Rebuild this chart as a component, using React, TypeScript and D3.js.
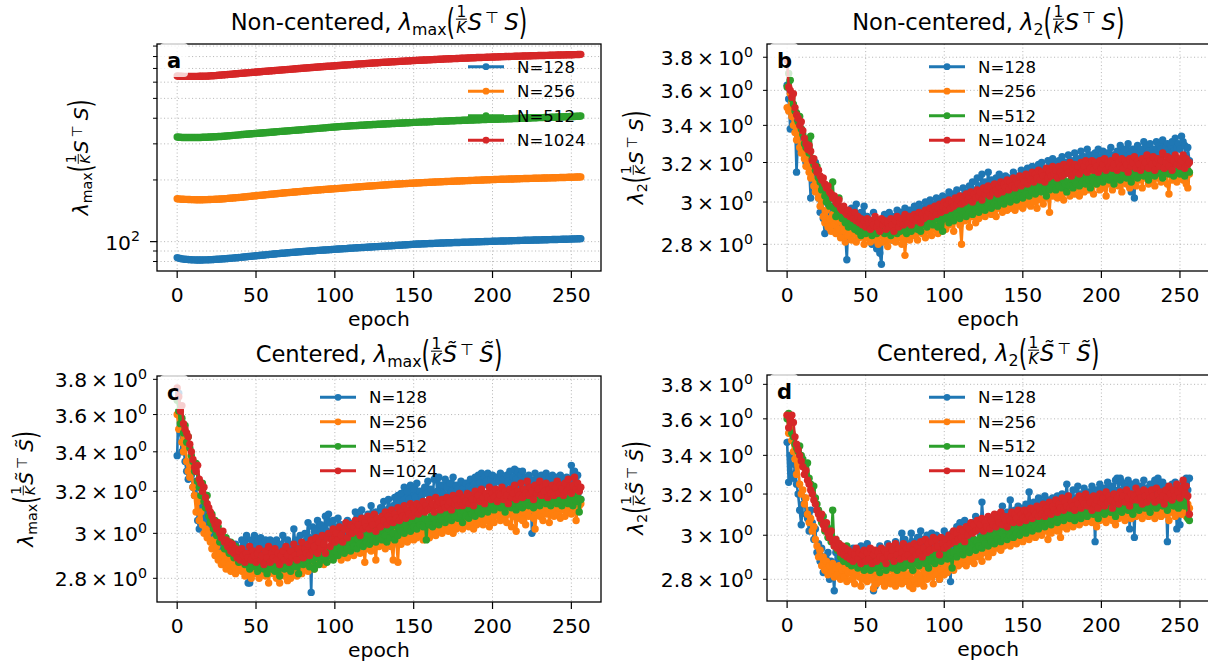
import React from 'react';
import * as d3 from 'd3';

// ---------------- DATA ----------------
const seriesNames = ['N=128', 'N=256', 'N=512', 'N=1024'];
const seriesColors = ['#1f77b4', '#ff7f0e', '#2ca02c', '#d62728'];
const xTickValues = [0, 50, 100, 150, 200, 250];
const xDomain = [-12.8, 268.8];
const aTickValues = [80, 90, 100, 200, 300, 400, 500, 600, 700, 800, 900];
const aMajorTicks = [100];
const aTickLabels: Record<number, [string, string]> = { 100: ['10', '2'] };
const bcdTickValues = [2.8, 3.0, 3.2, 3.4, 3.6, 3.8];
const bcdTickLabels = ['2.8', '3', '3.2', '3.4', '3.6', '3.8'];

// Panel a: non-centered lambda_max
const aBlue = [83.6,83.1,82.7,82.4,82.2,82.0,81.9,81.8,81.7,81.6,81.5,
81.5,81.4,81.4,81.4,81.4,81.4,81.5,81.5,81.5,81.6,
81.7,81.7,81.8,81.9,82.0,82.1,82.2,82.3,82.4,82.5,
82.6,82.8,82.9,83.0,83.1,83.3,83.4,83.5,83.7,83.8,
84.0,84.1,84.3,84.4,84.6,84.7,84.9,85.0,85.2,85.3,
85.5,85.6,85.8,85.9,86.1,86.2,86.4,86.5,86.7,86.8,
87.0,87.1,87.3,87.4,87.5,87.7,87.8,87.9,88.1,88.2,
88.3,88.5,88.6,88.7,88.8,89.0,89.1,89.2,89.4,89.5,
89.6,89.7,89.8,90.0,90.1,90.2,90.3,90.4,90.6,90.7,
90.8,90.9,91.0,91.1,91.2,91.3,91.4,91.5,91.7,91.8,
91.9,92.0,92.1,92.2,92.3,92.4,92.5,92.6,92.8,92.9,
93.0,93.1,93.2,93.3,93.4,93.5,93.6,93.7,93.8,93.9,
94.0,94.1,94.2,94.3,94.4,94.5,94.6,94.7,94.8,94.9,
95.0,95.1,95.2,95.3,95.4,95.5,95.6,95.8,95.9,96.0,
96.1,96.2,96.3,96.4,96.5,96.6,96.7,96.9,97.0,97.1,
97.2,97.3,97.3,97.4,97.5,97.6,97.6,97.7,97.8,97.9,
98.0,98.0,98.1,98.2,98.2,98.3,98.4,98.4,98.5,98.6,
98.7,98.7,98.8,98.8,98.9,99.0,99.0,99.1,99.1,99.2,
99.3,99.3,99.4,99.4,99.5,99.6,99.6,99.7,99.7,99.8,
99.9,99.9,100.0,100.0,100.1,100.2,100.2,100.3,100.3,100.4,
100.5,100.5,100.6,100.6,100.7,100.7,100.8,100.8,100.9,100.9,
101.0,101.0,101.1,101.2,101.2,101.3,101.3,101.4,101.4,101.5,
101.5,101.6,101.6,101.7,101.7,101.8,101.8,101.9,101.9,102.0,
102.0,102.1,102.1,102.2,102.2,102.3,102.3,102.4,102.4,102.5,
102.5,102.6,102.6,102.7,102.7,102.8,102.8,102.9,102.9,103.0,
103.1,103.1,103.2,103.3,103.3,103.4];
const aOrange = [162.0,161.6,161.3,161.1,160.9,160.8,160.7,160.6,160.5,160.4,160.3,
160.3,160.2,160.2,160.2,160.2,160.2,160.3,160.3,160.4,160.5,
160.6,160.7,160.8,160.9,161.1,161.2,161.4,161.5,161.7,162.0,
162.2,162.5,162.7,163.0,163.2,163.5,163.7,164.0,164.2,164.5,
164.8,165.1,165.4,165.7,166.0,166.3,166.6,166.9,167.2,167.5,
167.8,168.1,168.4,168.7,169.0,169.3,169.6,169.9,170.2,170.5,
170.8,171.1,171.4,171.7,172.0,172.3,172.6,172.9,173.2,173.5,
173.8,174.0,174.3,174.6,174.8,175.1,175.4,175.7,175.9,176.2,
176.5,176.7,177.0,177.3,177.5,177.8,178.0,178.3,178.5,178.8,
179.0,179.3,179.5,179.8,180.0,180.2,180.5,180.7,181.0,181.2,
181.5,181.7,182.0,182.3,182.5,182.8,183.0,183.3,183.5,183.8,
184.0,184.3,184.5,184.8,185.0,185.3,185.5,185.8,186.0,186.3,
186.5,186.8,187.0,187.2,187.5,187.7,188.0,188.2,188.5,188.7,
188.9,189.2,189.4,189.6,189.9,190.1,190.3,190.5,190.8,191.0,
191.2,191.4,191.6,191.8,192.0,192.2,192.4,192.6,192.8,193.0,
193.2,193.4,193.5,193.7,193.9,194.1,194.3,194.4,194.6,194.8,
195.0,195.1,195.3,195.5,195.6,195.8,195.9,196.1,196.3,196.4,
196.6,196.7,196.9,197.0,197.2,197.3,197.5,197.6,197.8,197.9,
198.1,198.2,198.4,198.5,198.7,198.8,199.0,199.1,199.3,199.4,
199.5,199.7,199.8,200.0,200.1,200.3,200.4,200.5,200.7,200.8,
200.9,201.0,201.2,201.3,201.4,201.5,201.6,201.8,201.9,202.0,
202.1,202.2,202.3,202.4,202.6,202.7,202.8,202.9,203.0,203.1,
203.2,203.3,203.4,203.5,203.6,203.7,203.8,203.9,204.0,204.1,
204.2,204.3,204.4,204.5,204.6,204.7,204.8,204.9,205.0,205.1,
205.2,205.3,205.4,205.5,205.6,205.7,205.8,206.0,206.1,206.2,
206.3,206.4,206.6,206.7,206.8,207.0];
const aGreen = [324,323,323,322,322,322,322,322,322,322,322,
322,322,322,322,322,323,323,323,323,324,
324,324,325,325,325,326,326,326,327,327,
328,328,329,329,330,330,331,331,332,332,
333,333,334,334,335,335,336,336,337,337,
338,338,339,339,340,340,341,341,342,342,
343,343,344,344,345,345,346,346,347,347,
348,348,349,349,350,350,351,351,352,352,
353,353,354,354,355,355,356,356,357,357,
358,358,359,359,360,361,361,362,362,363,
363,364,364,365,365,365,366,366,367,367,
368,368,368,369,369,370,370,370,371,371,
372,372,372,373,373,373,374,374,374,375,
375,375,376,376,376,377,377,377,378,378,
378,379,379,379,380,380,380,381,381,382,
382,382,383,383,383,384,384,384,384,385,
385,385,386,386,386,387,387,387,387,388,
388,388,389,389,389,389,390,390,390,390,
391,391,391,391,392,392,392,392,393,393,
393,393,394,394,394,394,395,395,395,395,
396,396,396,396,397,397,397,397,398,398,
398,398,399,399,399,399,400,400,400,400,
401,401,401,401,402,402,402,402,403,403,
403,403,404,404,404,404,405,405,405,405,
406,406,406,406,407,407,407,407,408,408,
408,408,409,409,409,410];
const aRed = [643,642,641,641,640,640,640,640,640,640,640,
640,640,640,641,641,641,642,642,642,643,
644,645,645,646,647,648,649,650,651,652,
653,654,655,656,657,658,659,660,661,662,
663,664,665,666,667,668,669,670,671,672,
673,674,675,676,677,678,679,680,681,682,
683,684,685,686,687,688,689,690,691,692,
693,694,695,696,697,698,699,700,701,702,
703,704,705,706,707,708,709,710,711,712,
713,714,715,716,717,718,718,719,720,721,
722,723,724,725,726,727,728,729,730,731,
732,733,734,735,736,737,737,738,739,740,
741,742,743,744,745,745,746,747,748,749,
750,751,751,752,753,754,755,755,756,757,
758,759,759,760,761,762,762,763,764,765,
765,766,767,768,768,769,770,770,771,772,
772,773,774,774,775,776,776,777,778,779,
779,780,780,781,782,782,783,783,784,785,
785,786,786,787,787,788,789,789,790,791,
791,792,792,793,793,794,794,795,795,796,
796,797,797,798,798,799,799,800,800,801,
801,802,802,803,803,803,804,804,805,805,
806,806,806,807,807,808,808,808,809,809,
810,810,810,811,811,812,812,812,813,813,
814,814,814,815,815,815,816,816,817,817,
817,818,818,819,819,820];

// Panel b: non-centered lambda_2
const bBlue = [3.63,3.55,3.38,3.50,3.40,3.45,3.15,3.35,3.30,3.38,3.28,
3.25,3.20,3.30,3.18,3.02,3.15,3.12,3.20,3.05,3.02,
2.95,3.08,2.92,2.85,3.00,2.95,2.90,2.98,2.92,2.88,
2.95,2.90,2.98,2.87,2.93,2.96,2.85,2.73,2.92,2.89,
2.97,2.88,2.94,2.99,2.86,2.92,2.95,2.90,2.98,2.88,
2.93,2.86,2.91,2.80,2.95,2.87,2.78,2.90,2.76,2.71,
2.88,2.94,2.92,2.85,2.95,2.89,2.82,2.93,2.90,2.96,
2.87,2.95,2.91,2.84,2.97,2.92,2.88,2.96,2.93,2.89,
2.98,2.92,2.95,2.99,2.90,2.97,2.94,3.00,2.93,2.98,
3.01,2.95,2.99,2.93,3.02,2.97,3.00,2.96,3.03,2.99,
3.02,2.97,3.05,3.00,2.98,3.04,3.01,3.06,2.99,3.03,
3.00,3.07,3.02,2.97,3.05,3.08,3.03,3.10,3.01,3.06,
3.12,3.04,3.08,3.14,3.02,3.10,3.07,3.15,3.05,3.11,
3.08,3.03,3.12,3.09,3.14,3.06,3.11,3.07,3.13,3.10,
3.05,3.12,3.08,3.15,3.10,3.06,3.13,3.09,3.16,3.11,
3.14,3.08,3.17,3.12,3.10,3.18,3.13,3.16,3.11,3.19,
3.14,3.20,3.12,3.17,3.15,3.21,3.13,3.18,3.22,3.16,
3.19,3.14,3.21,3.17,3.23,3.15,3.20,3.18,3.24,3.16,
3.21,3.19,3.25,3.17,3.22,3.20,3.26,3.18,3.23,3.21,
3.27,3.19,3.24,3.16,3.22,3.25,3.20,3.27,3.18,3.23,
3.26,3.21,3.19,3.25,3.22,3.28,3.20,3.24,3.17,3.26,
3.23,3.29,3.21,3.25,3.27,3.22,3.30,3.24,3.05,3.27,
3.02,3.25,3.29,3.22,3.27,3.24,3.31,3.23,3.28,3.26,
3.30,3.22,3.27,3.25,3.31,3.24,3.29,3.27,3.32,3.25,
3.28,3.30,3.23,3.29,3.31,3.26,3.33,3.28,3.30,3.27,
3.34,3.31,3.29,3.10,3.28,3.21];
const bOrange = [3.50,3.48,3.58,3.45,3.40,3.36,3.32,3.38,3.28,3.25,3.30,
3.22,3.18,3.24,3.15,3.12,3.18,3.08,3.05,3.10,3.02,
2.98,3.04,2.93,2.90,2.96,2.88,2.92,2.86,2.94,2.89,
2.85,2.91,2.87,2.83,2.90,2.86,2.81,2.88,2.84,2.87,
2.82,2.89,2.85,2.81,2.87,2.83,2.88,2.84,2.80,2.86,
2.83,2.87,2.81,2.85,2.88,2.82,2.86,2.80,2.84,2.87,
2.81,2.85,2.83,2.79,2.86,2.82,2.88,2.84,2.81,2.86,
2.83,2.87,2.80,2.85,2.75,2.84,2.88,2.82,2.86,2.89,
2.84,2.88,2.82,2.87,2.90,2.85,2.88,2.83,2.91,2.86,
2.89,2.84,2.92,2.87,2.90,2.85,2.93,2.88,2.91,2.94,
2.87,2.92,2.89,2.95,2.90,2.86,2.93,2.91,2.96,2.89,
2.80,2.94,2.91,2.97,2.92,2.88,2.95,2.93,2.98,2.90,
2.96,2.92,2.99,2.94,2.97,2.93,3.00,2.95,2.98,2.94,
3.00,2.96,2.93,3.01,2.97,2.99,2.95,3.02,2.98,2.96,
3.01,2.97,3.03,2.99,2.96,3.02,2.98,3.04,3.00,2.97,
3.03,2.99,3.05,3.01,2.98,3.04,3.00,3.06,2.97,3.03,
3.05,3.01,2.99,3.06,3.02,3.04,2.95,3.07,3.03,3.05,
3.08,3.02,3.06,3.04,3.09,3.01,3.07,3.05,3.10,3.03,
3.06,3.09,3.04,3.11,3.07,3.03,3.08,3.12,3.05,3.09,
3.10,3.06,3.13,3.08,3.04,3.11,3.09,3.14,3.06,3.10,
3.12,3.07,3.03,3.11,3.09,3.14,3.06,3.12,3.10,3.15,
3.08,3.13,3.05,3.11,3.16,3.09,3.14,3.07,3.12,3.10,
3.15,3.08,3.13,3.11,3.16,3.07,3.14,3.12,3.17,3.09,
3.13,3.11,3.16,3.08,3.14,3.12,3.17,3.10,3.15,3.13,
3.18,3.09,3.04,3.14,3.11,3.16,3.12,3.10,3.17,3.13,
3.15,3.11,3.18,3.09,3.07,3.14];
const bGreen = [3.62,3.70,3.66,3.55,3.52,3.48,3.47,3.42,3.45,3.38,3.35,
3.30,3.28,3.32,3.25,3.34,3.22,3.19,3.16,3.18,3.12,
3.10,3.06,3.08,3.03,3.00,3.05,2.98,3.02,3.10,2.97,
2.93,2.99,3.02,2.95,2.92,2.96,2.90,2.94,2.88,2.92,
2.89,2.93,2.87,2.91,2.86,2.90,2.84,2.89,2.87,2.85,
2.88,2.86,2.90,2.84,2.87,2.91,2.85,2.88,2.86,2.89,
2.87,2.85,2.90,2.86,2.88,2.84,2.89,2.87,2.91,2.85,
2.88,2.86,2.90,2.87,2.89,2.85,2.91,2.88,2.86,2.90,
2.88,2.92,2.87,2.90,2.86,2.91,2.89,2.93,2.88,2.91,
2.90,2.94,2.89,2.92,2.95,2.88,2.93,2.91,2.86,2.94,
2.92,2.96,2.90,2.94,2.97,2.91,2.95,2.93,2.97,2.92,
2.96,2.94,2.98,2.93,2.97,2.95,2.99,2.94,2.98,2.96,
3.00,2.95,2.99,2.97,3.01,2.96,3.00,2.98,3.02,2.97,
3.01,2.99,3.03,2.98,3.02,3.00,3.04,2.99,3.03,3.01,
3.05,3.00,3.04,3.02,3.06,3.01,3.05,3.03,3.07,3.02,
3.06,3.04,3.08,3.03,3.07,3.05,3.09,3.04,3.08,3.06,
3.10,3.05,3.09,3.07,3.03,3.08,3.06,3.10,3.07,3.11,
3.06,3.10,3.08,3.12,3.07,3.11,3.09,3.05,3.10,3.08,
3.12,3.07,3.11,3.09,3.13,3.08,3.12,3.10,3.14,3.09,
3.13,3.11,3.07,3.12,3.10,3.14,3.09,3.13,3.11,3.15,
3.10,3.14,3.12,3.16,3.11,3.15,3.13,3.09,3.14,3.12,
3.16,3.11,3.15,3.13,3.17,3.12,3.16,3.14,3.10,3.15,
3.13,3.17,3.12,3.16,3.14,3.18,3.13,3.17,3.15,3.11,
3.16,3.14,3.18,3.13,3.17,3.15,3.19,3.14,3.12,3.17,
3.15,3.19,3.14,3.18,3.16,3.13,3.18,3.15,3.19,3.14,
3.17,3.15,3.13,3.18,3.16,3.15];
const bRed = [3.78,3.62,3.60,3.56,3.58,3.50,3.46,3.44,3.40,3.42,3.37,
3.33,3.30,3.27,3.29,3.26,3.21,3.22,3.18,3.15,3.16,
3.13,3.11,3.12,3.09,3.07,3.08,3.05,3.04,3.02,3.03,
3.00,2.99,3.01,2.97,2.96,2.98,2.95,2.94,2.96,2.93,
2.94,2.92,2.95,2.91,2.93,2.90,2.92,2.89,2.91,2.88,
2.92,2.90,2.87,2.91,2.89,2.93,2.88,2.90,2.86,2.92,
2.89,2.91,2.87,2.90,2.88,2.92,2.89,2.86,2.91,2.93,
2.88,2.90,2.92,2.89,2.94,2.91,2.90,2.93,2.89,2.92,
2.94,2.91,2.93,2.95,2.90,2.94,2.92,2.96,2.93,2.95,
2.97,2.93,2.96,2.98,2.94,2.97,2.99,2.95,2.98,3.00,
2.96,2.99,3.01,2.97,3.00,2.98,3.02,2.99,3.01,3.03,
2.99,3.02,3.00,3.04,3.01,3.03,3.05,3.00,3.04,3.02,
3.06,3.03,3.05,3.01,3.07,3.04,3.06,3.08,3.03,3.07,
3.05,3.09,3.06,3.04,3.08,3.10,3.05,3.09,3.07,3.11,
3.06,3.10,3.08,3.12,3.07,3.11,3.09,3.13,3.08,3.12,
3.10,3.14,3.09,3.13,3.11,3.15,3.10,3.14,3.12,3.16,
3.11,3.15,3.13,3.10,3.17,3.12,3.15,3.13,3.18,3.14,
3.16,3.12,3.18,3.15,3.13,3.19,3.14,3.17,3.15,3.20,
3.13,3.17,3.19,3.15,3.18,3.14,3.20,3.16,3.18,3.21,
3.15,3.19,3.17,3.21,3.16,3.20,3.18,3.15,3.21,3.17,
3.19,3.22,3.16,3.20,3.18,3.21,3.17,3.19,3.23,3.16,
3.20,3.18,3.22,3.17,3.21,3.19,3.15,3.22,3.18,3.20,
3.23,3.17,3.21,3.19,3.16,3.22,3.18,3.20,3.24,3.17,
3.21,3.19,3.23,3.16,3.20,3.22,3.18,3.21,3.25,3.17,
3.20,3.23,3.18,3.22,3.16,3.21,3.24,3.19,3.22,3.18,
3.21,3.24,3.17,3.22,3.19,3.20];

// Panel c: centered lambda_max
const cBlue = [3.38,3.72,3.50,3.40,3.42,3.35,3.30,3.26,3.33,3.28,3.22,
3.18,3.25,3.06,3.02,3.12,3.15,3.08,3.05,3.10,3.00,
3.04,2.98,3.02,2.95,2.99,2.93,2.96,2.91,2.95,2.92,
2.94,2.90,2.96,2.93,2.89,2.92,2.95,2.91,2.88,2.93,
2.97,2.92,2.95,2.99,2.78,2.78,2.97,2.93,2.99,2.94,
2.97,2.92,2.98,2.95,2.91,2.97,2.94,2.90,2.97,2.93,
2.96,2.91,2.97,2.88,2.95,2.92,2.99,2.90,2.94,2.97,
2.92,2.95,2.89,3.02,2.94,2.97,2.91,2.99,2.95,2.93,
3.00,2.96,3.05,2.98,2.74,3.03,3.01,2.95,3.06,2.99,
3.04,2.97,3.02,3.08,3.01,3.09,3.05,2.98,3.06,3.03,
2.96,3.07,3.00,3.04,2.94,3.02,2.93,3.06,2.92,3.03,
2.98,3.05,3.10,3.01,3.08,3.03,3.11,2.99,3.07,3.04,
3.09,3.02,3.13,3.06,3.01,3.10,3.05,2.96,3.12,3.07,
3.15,3.04,3.11,3.16,3.08,2.94,3.13,3.17,3.10,3.18,
3.12,3.19,3.14,3.22,3.10,3.20,3.16,3.23,3.13,3.21,
3.17,3.24,3.12,3.20,3.18,3.15,3.22,3.19,3.25,3.16,
3.21,3.18,3.26,3.27,3.20,3.27,3.17,3.23,3.19,3.26,
3.22,3.18,3.24,3.20,3.27,3.16,3.23,3.21,3.18,3.25,
3.21,3.19,3.24,3.17,3.22,3.26,3.20,3.23,3.27,3.21,
3.28,3.24,3.29,3.23,3.27,3.25,3.29,3.22,3.26,3.28,
3.24,3.21,3.27,3.25,3.29,3.23,3.26,3.22,3.28,3.25,
3.30,3.24,3.27,3.31,3.26,3.30,3.23,3.28,3.30,3.25,
3.27,3.22,3.28,3.26,3.00,3.25,3.29,3.23,3.27,3.24,
3.28,3.21,3.26,3.29,3.24,3.27,3.22,3.28,3.25,3.23,
3.27,3.24,3.28,3.21,3.26,3.23,3.27,3.25,3.22,3.33,
3.26,3.30,3.24,3.28,3.20,3.16];
const cOrange = [3.60,3.52,3.62,3.45,3.40,3.48,3.35,3.30,3.27,3.32,3.22,
3.18,3.10,3.15,3.06,3.10,3.04,3.00,3.02,2.98,3.01,
2.96,2.93,2.97,2.90,2.94,2.88,2.91,2.86,2.90,2.87,
2.84,2.89,2.86,2.83,2.88,2.85,2.82,2.87,2.84,2.86,
2.83,2.87,2.81,2.85,2.82,2.86,2.80,2.84,2.82,2.86,
2.83,2.80,2.85,2.82,2.87,2.81,2.84,2.78,2.83,2.86,
2.82,2.85,2.80,2.84,2.78,2.83,2.86,2.81,2.84,2.79,
2.83,2.80,2.85,2.82,2.86,2.81,2.84,2.88,2.82,2.86,
2.84,2.88,2.83,2.87,2.85,2.89,2.84,2.88,2.86,2.90,
2.87,2.91,2.86,2.89,2.92,2.88,2.90,2.94,2.89,2.92,
2.95,2.90,2.93,2.88,2.96,2.91,2.94,2.89,2.97,2.92,
2.95,2.90,2.97,2.93,2.96,2.91,2.98,2.94,2.87,2.96,
2.93,2.97,2.92,2.99,2.95,2.88,2.98,2.94,3.00,2.95,
2.98,2.93,3.00,2.96,2.99,2.94,2.88,3.01,2.96,2.87,
3.00,2.95,3.02,2.97,3.01,2.96,3.03,2.98,3.01,2.97,
3.03,2.98,3.02,2.99,3.04,2.97,3.02,3.00,3.05,2.98,
3.03,3.00,3.06,2.99,3.04,3.01,3.05,3.00,3.07,3.02,
3.04,3.01,3.06,3.03,3.00,3.07,3.02,3.05,3.03,3.08,
3.02,3.06,3.04,3.09,3.03,3.07,3.05,3.02,3.08,3.04,
3.07,3.05,3.10,3.04,3.08,3.06,3.11,3.03,3.09,3.07,
3.05,3.10,3.08,3.12,3.06,3.09,3.07,3.11,3.05,3.09,
3.12,3.03,3.10,3.08,3.01,3.11,3.07,3.13,3.06,3.10,
3.04,3.12,3.08,3.11,3.14,3.07,3.02,3.10,3.13,3.08,
3.11,3.06,3.14,3.09,3.12,3.05,3.13,3.10,3.08,3.15,
3.09,3.12,3.07,3.14,3.11,3.08,3.13,3.10,3.15,3.09,
3.12,3.14,3.06,3.11,3.13,3.14];
const cGreen = [3.68,3.62,3.55,3.58,3.50,3.54,3.45,3.48,3.42,3.38,3.35,
3.30,3.34,3.25,3.22,3.18,3.24,3.15,3.12,3.18,3.08,
3.05,3.09,3.02,3.06,2.99,3.03,2.96,3.00,2.97,2.93,
2.98,2.94,2.91,2.96,2.92,2.89,2.94,2.90,2.87,2.92,
2.88,2.91,2.86,2.90,2.87,2.84,2.89,2.85,2.88,2.86,
2.83,2.88,2.85,2.89,2.84,2.87,2.82,2.86,2.89,2.84,
2.87,2.83,2.88,2.85,2.81,2.86,2.89,2.84,2.87,2.85,
2.88,2.83,2.86,2.90,2.85,2.88,2.82,2.87,2.91,2.86,
2.89,2.87,2.91,2.85,2.90,2.88,2.84,2.92,2.89,2.86,
2.91,2.88,2.93,2.89,2.87,2.92,2.90,2.94,2.88,2.92,
2.95,2.90,2.94,2.92,2.96,2.91,2.95,2.93,2.97,2.92,
2.96,2.94,2.98,2.93,2.97,2.95,2.99,2.94,2.98,2.96,
3.00,2.95,2.99,2.97,3.01,2.96,3.00,2.98,3.02,2.97,
3.01,2.99,2.96,3.02,2.98,3.03,3.00,2.97,3.04,2.99,
3.03,3.01,3.05,3.00,3.04,3.02,3.06,3.01,3.05,3.03,
3.07,3.02,3.06,3.04,3.08,3.03,3.07,2.97,3.06,3.04,
3.08,3.03,3.07,3.05,3.09,3.04,3.08,3.06,3.10,3.05,
3.09,3.07,3.11,3.06,3.10,3.08,3.12,3.07,3.11,3.09,
3.05,3.10,3.08,3.12,3.07,3.11,3.09,3.13,3.08,3.12,
3.10,3.14,3.09,3.13,3.11,3.15,3.10,3.14,3.12,3.16,
3.11,3.15,3.13,3.17,3.12,3.16,3.14,3.10,3.15,3.13,
3.17,3.12,3.16,3.14,3.11,3.15,3.13,3.17,3.12,3.16,
3.14,3.18,3.13,3.17,3.15,3.12,3.16,3.14,3.18,3.13,
3.17,3.15,3.19,3.14,3.18,3.16,3.13,3.17,3.15,3.19,
3.14,3.18,3.16,3.13,3.17,3.15,3.19,3.14,3.18,3.16,
3.13,3.17,3.15,3.19,3.10,3.16];
const cRed = [3.75,3.70,3.62,3.65,3.55,3.52,3.50,3.48,3.44,3.40,3.36,
3.32,3.30,3.33,3.26,3.24,3.20,3.22,3.17,3.14,3.12,
3.10,3.08,3.06,3.04,3.02,3.05,3.00,2.98,3.01,2.96,
2.97,2.94,2.96,2.92,2.95,2.91,2.93,2.89,2.92,2.88,
2.93,2.90,2.87,2.91,2.89,2.94,2.88,2.92,2.90,2.87,
2.91,2.93,2.88,2.90,2.86,2.92,2.89,2.94,2.87,2.91,
2.89,2.93,2.88,2.91,2.86,2.90,2.92,2.88,2.94,2.90,
2.87,2.92,2.89,2.95,2.90,2.88,2.93,2.91,2.96,2.89,
2.93,2.91,2.95,2.90,2.97,2.92,2.94,2.98,2.91,2.96,
2.93,2.99,2.95,2.91,2.98,3.00,2.94,2.97,3.02,2.96,
3.00,2.97,3.03,2.99,2.96,3.02,3.05,2.98,3.01,3.04,
3.00,3.03,3.06,3.01,3.04,2.99,3.07,3.02,3.05,3.03,
3.08,3.02,3.06,3.04,3.09,3.01,3.07,3.05,3.03,3.08,
3.06,3.10,3.04,3.08,3.06,3.11,3.05,3.09,3.07,3.12,
3.06,3.10,3.08,3.13,3.07,3.11,3.09,3.14,3.08,3.12,
3.10,3.14,3.09,3.13,3.11,3.15,3.10,3.13,3.11,3.16,
3.12,3.14,3.10,3.17,3.13,3.15,3.11,3.16,3.14,3.12,
3.17,3.13,3.15,3.11,3.18,3.14,3.16,3.13,3.19,3.15,
3.13,3.17,3.15,3.19,3.14,3.18,3.16,3.13,3.20,3.16,
3.18,3.15,3.21,3.17,3.14,3.19,3.17,3.22,3.16,3.19,
3.17,3.21,3.15,3.19,3.18,3.22,3.16,3.20,3.18,3.14,
3.21,3.17,3.19,3.23,3.16,3.20,3.18,3.24,3.17,3.21,
3.19,3.25,3.18,3.22,3.20,3.16,3.23,3.19,3.21,3.25,
3.18,3.22,3.20,3.24,3.17,3.21,3.19,3.23,3.18,3.22,
3.25,3.19,3.23,3.21,3.18,3.24,3.20,3.26,3.22,3.19,
3.23,3.27,3.21,3.24,3.20,3.22];

// Panel d: centered lambda_2
const dBlue = [3.47,3.26,3.40,3.30,3.28,3.35,3.25,3.20,3.12,3.05,3.15,
3.18,3.10,3.08,3.02,3.12,3.06,2.98,3.03,2.92,2.96,
2.88,2.94,2.83,2.90,2.86,2.92,2.80,2.88,2.84,2.75,
2.92,2.87,2.83,2.91,2.88,2.85,2.93,2.89,2.86,2.92,
2.88,2.94,2.90,2.86,2.93,2.89,2.95,2.91,2.87,2.94,
2.96,2.89,2.93,2.87,2.75,2.77,2.92,2.88,2.95,2.90,
2.86,2.93,2.89,2.96,2.91,2.87,2.94,2.90,2.97,2.92,
2.88,2.95,3.01,2.91,2.98,2.94,2.90,2.96,3.01,2.93,
2.97,2.91,2.99,2.95,3.02,2.93,2.98,2.94,3.00,2.96,
2.99,3.01,2.92,2.97,3.00,2.94,2.80,2.98,2.95,3.02,
2.97,3.00,2.94,2.79,3.01,2.95,2.99,3.04,2.97,3.06,
3.00,3.03,3.07,2.98,3.05,3.01,2.95,3.06,3.02,3.09,
3.03,3.07,3.00,3.16,3.05,3.02,2.92,3.06,3.01,3.08,
3.04,3.00,3.07,3.03,3.10,3.05,3.14,3.08,3.04,3.11,
3.07,3.17,3.09,3.05,3.12,3.08,3.14,3.10,3.06,3.13,
3.09,3.15,3.11,3.21,3.12,3.08,3.16,3.10,3.14,3.18,
3.11,3.16,3.13,3.19,3.12,3.17,3.14,3.10,3.18,3.15,
3.12,3.19,3.16,3.13,3.20,3.15,3.18,3.25,3.14,3.19,
3.16,3.22,3.13,3.18,3.24,3.15,3.20,3.17,3.23,3.18,
3.14,3.21,3.17,3.24,3.19,2.97,3.22,3.18,3.25,3.20,
3.16,3.23,3.19,3.26,3.21,3.17,3.24,3.20,3.27,3.28,
3.22,3.28,3.26,3.19,3.24,3.21,3.27,3.03,3.25,3.20,
2.99,3.26,3.22,3.18,3.24,3.21,3.27,3.19,3.23,3.20,
3.25,3.18,3.22,3.27,3.19,3.28,3.23,3.20,3.26,3.21,
3.24,2.97,3.22,3.19,3.25,3.21,3.26,3.03,3.23,3.05,
3.21,3.26,3.19,3.28,3.22,3.28];
const dOrange = [3.62,3.52,3.55,3.48,3.42,3.38,3.30,3.35,3.25,3.20,3.22,
3.15,3.18,3.10,3.06,3.08,3.02,3.04,2.98,2.95,2.90,
2.93,2.86,2.90,2.84,2.88,2.82,2.86,2.83,2.87,2.81,
2.85,2.82,2.86,2.80,2.84,2.81,2.85,2.79,2.83,2.86,
2.80,2.84,2.78,2.83,2.86,2.81,2.77,2.84,2.80,2.83,
2.79,2.82,2.85,2.80,2.76,2.83,2.78,2.81,2.84,2.79,
2.82,2.77,2.83,2.79,2.81,2.78,2.84,2.80,2.77,2.82,
2.79,2.83,2.78,2.81,2.85,2.79,2.82,2.77,2.83,2.76,
2.80,2.84,2.78,2.82,2.79,2.85,2.77,2.83,2.80,2.86,
2.81,2.84,2.78,2.85,2.82,2.87,2.80,2.84,2.88,2.82,
2.86,2.83,2.89,2.85,2.91,2.84,2.88,2.92,2.86,2.90,
2.87,2.93,2.89,2.86,2.92,2.88,2.94,2.90,2.87,2.93,
2.90,2.95,2.91,2.88,2.94,2.92,2.96,2.90,2.94,2.97,
2.92,2.96,2.99,2.94,2.97,2.93,2.98,2.95,3.00,2.96,
2.99,2.95,3.01,2.97,3.00,2.96,3.02,2.98,3.01,2.97,
3.03,2.99,3.02,2.98,3.04,3.00,3.03,2.99,3.05,3.01,
3.04,3.00,3.06,3.02,3.05,2.98,3.04,3.01,3.06,3.03,
3.07,3.02,3.05,2.99,3.06,3.04,3.08,3.03,3.07,3.05,
3.09,3.04,3.08,3.06,3.10,3.05,3.09,3.07,3.11,3.06,
3.09,3.07,3.12,3.06,3.10,3.08,3.04,3.11,3.07,3.10,
3.08,3.12,3.06,3.11,3.09,3.13,3.07,3.10,3.05,3.12,
3.08,3.11,3.09,3.14,3.07,3.12,3.10,3.13,3.08,3.11,
3.14,3.09,3.12,3.10,3.15,3.08,3.13,3.11,3.16,3.09,
3.12,3.10,3.15,3.08,3.13,3.11,3.16,3.09,3.14,3.12,
3.10,3.15,3.07,3.13,3.11,3.16,3.09,3.14,3.12,3.17,
3.10,3.14,3.12,3.09,3.15,3.13];
const dGreen = [3.60,3.63,3.58,3.52,3.50,3.46,3.44,3.42,3.45,3.40,3.38,
3.34,3.30,3.36,3.28,3.25,3.22,3.24,3.18,3.15,3.12,
3.10,3.06,3.09,3.02,3.05,2.99,3.03,2.97,3.12,2.95,
2.98,2.93,2.96,2.90,2.94,2.88,2.92,2.95,2.87,2.91,
2.86,2.90,2.88,2.92,2.85,2.89,2.87,2.91,2.84,2.88,
2.86,2.90,2.84,2.88,2.91,2.85,2.89,2.87,2.83,2.88,
2.86,2.90,2.84,2.88,2.86,2.91,2.85,2.89,2.87,2.84,
2.88,2.86,2.90,2.85,2.89,2.87,2.92,2.86,2.90,2.84,
2.89,2.87,2.91,2.86,2.90,2.88,2.93,2.87,2.91,2.85,
2.90,2.88,2.92,2.87,2.91,2.89,2.94,2.88,2.92,2.90,
2.94,2.89,2.93,2.91,2.85,2.92,2.96,2.90,2.94,2.92,
2.96,2.91,2.95,2.93,2.97,2.92,2.96,2.94,2.98,2.93,
2.97,2.95,2.99,2.94,2.98,2.96,3.00,2.95,2.99,2.97,
3.01,2.96,3.00,2.98,3.02,2.97,3.01,2.99,3.03,2.98,
3.02,3.00,3.04,2.99,3.03,3.01,3.05,3.00,3.04,3.02,
3.06,3.01,3.05,3.03,3.07,3.02,3.06,3.04,3.08,3.03,
3.07,3.05,3.09,3.04,3.08,3.06,3.10,3.05,3.09,3.07,
3.11,3.06,3.10,3.08,3.12,3.07,3.11,3.09,3.13,3.08,
3.12,3.10,3.07,3.11,3.09,3.13,3.08,3.12,3.10,3.14,
3.09,3.13,3.11,3.15,3.10,3.14,3.12,3.08,3.13,3.11,
3.15,3.10,3.14,3.12,3.16,3.11,3.15,3.13,3.09,3.14,
3.12,3.16,3.11,3.15,3.13,3.17,3.12,3.16,3.14,3.10,
3.15,3.13,3.17,3.12,3.16,3.14,3.18,3.13,3.17,3.15,
3.11,3.16,3.14,3.18,3.13,3.17,3.15,3.19,3.14,3.18,
3.16,3.12,3.17,3.15,3.19,3.14,3.18,3.16,3.13,3.17,
3.15,3.19,3.14,3.18,3.08,3.07];
const dRed = [3.62,3.55,3.60,3.62,3.58,3.50,3.46,3.43,3.40,3.37,3.34,
3.30,3.32,3.27,3.25,3.22,3.20,3.17,3.15,3.12,3.10,
3.08,3.10,3.05,3.03,3.06,3.01,2.99,3.02,2.97,2.95,
2.98,2.94,2.96,2.92,2.95,2.91,2.94,2.90,2.93,2.89,
2.92,2.88,2.91,2.94,2.89,2.92,2.87,2.91,2.93,2.88,
2.92,2.89,2.94,2.87,2.91,2.93,2.88,2.92,2.90,2.94,
2.89,2.93,2.87,2.91,2.95,2.90,2.93,2.88,2.96,2.91,
2.94,2.89,2.92,2.96,2.90,2.94,2.91,2.95,2.89,2.93,
2.96,2.91,2.95,2.92,2.97,2.90,2.94,2.98,2.92,2.96,
2.93,2.97,2.99,2.94,2.98,2.95,2.91,2.99,2.96,2.94,
2.98,2.95,3.00,2.96,2.99,3.02,2.97,3.01,2.98,3.03,
2.99,3.02,2.97,3.04,3.00,3.03,3.06,3.01,3.05,3.02,
3.07,3.03,3.05,3.08,3.02,3.06,3.04,3.09,3.03,3.07,
3.05,3.10,3.04,3.08,3.06,3.11,3.05,3.09,3.07,3.04,
3.09,3.07,3.11,3.06,3.10,3.08,3.12,3.06,3.10,3.08,
3.12,3.07,3.11,3.09,3.13,3.08,3.12,3.10,3.14,3.09,
3.12,3.10,3.15,3.09,3.13,3.11,3.16,3.10,3.14,3.12,
3.17,3.11,3.15,3.13,3.18,3.12,3.16,3.14,3.19,3.13,
3.16,3.14,3.12,3.17,3.15,3.19,3.13,3.17,3.15,3.20,
3.14,3.18,3.16,3.12,3.19,3.15,3.17,3.13,3.20,3.16,
3.18,3.14,3.21,3.16,3.19,3.17,3.13,3.20,3.16,3.18,
3.15,3.21,3.17,3.19,3.16,3.22,3.18,3.14,3.20,3.17,
3.19,3.23,3.17,3.21,3.18,3.15,3.22,3.19,3.16,3.21,
3.18,3.22,3.19,3.16,3.23,3.20,3.17,3.21,3.19,3.15,
3.22,3.18,3.24,3.20,3.17,3.22,3.19,3.25,3.21,3.18,
3.23,3.27,3.20,3.24,3.19,3.10];

// ---------------- TEXT MEASUREMENT / MATH ----------------
const FONT = '"DejaVu Sans", "Liberation Sans", sans-serif';
let measureCtx: CanvasRenderingContext2D | null = null;
function textWidth(text: string, size: number, italic = false, bold = false) {
  if (!measureCtx) measureCtx = document.createElement('canvas').getContext('2d');
  if (!measureCtx) return text.length * size * 0.6;
  measureCtx.font = `${italic ? 'italic ' : ''}${bold ? 'bold ' : ''}${size}px "DejaVu Sans"`;
  return measureCtx.measureText(text).width;
}

type Piece =
  | { k: 't'; text: string; it?: boolean; s?: number; dy?: number }
  | { k: 'sp'; w: number }
  | { k: 'frac'; n: string; d: string }
  | { k: 'par'; ch: string };

const TILDE_S = 'S\u0303';
function mathPieces(prefix: string, sub: string, tilde: boolean): Piece[] {
  const S = tilde ? TILDE_S : 'S';
  const p: Piece[] = [];
  if (prefix) p.push({ k: 't', text: prefix });
  p.push({ k: 't', text: 'λ', it: true });
  p.push({ k: 't', text: sub, s: 0.7, dy: 0.2 });
  p.push({ k: 'par', ch: '(' });
  p.push({ k: 'frac', n: '1', d: 'K' });
  p.push({ k: 't', text: S, it: true });
  p.push({ k: 'sp', w: 0.14 });
  p.push({ k: 't', text: '⊤', s: 0.7, dy: -0.3 });
  p.push({ k: 'sp', w: 0.24 });
  p.push({ k: 't', text: S, it: true });
  p.push({ k: 'par', ch: ')' });
  return p;
}

function MathText({ pieces, x, y, fs, rotate }: { pieces: Piece[]; x: number; y: number; fs: number; rotate?: boolean }) {
  const els: React.ReactNode[] = [];
  let cx = 0;
  pieces.forEach((p, i) => {
    if (p.k === 't') {
      const s = fs * (p.s ?? 1);
      els.push(
        <text key={i} x={cx} y={(p.dy ?? 0) * fs} fontSize={s} fontStyle={p.it ? 'italic' : 'normal'}>
          {p.text}
        </text>
      );
      cx += textWidth(p.text, s, !!p.it);
    } else if (p.k === 'sp') {
      cx += p.w * fs;
    } else if (p.k === 'frac') {
      const s = fs * 0.68;
      const wn = textWidth(p.n, s, false);
      const wd = textWidth(p.d, s, true);
      const w = Math.max(wn, wd) + 0.12 * fs;
      const barY = -0.48 * fs;
      els.push(
        <g key={i}>
          <text x={cx + w / 2} y={barY - 0.09 * fs} fontSize={s} textAnchor="middle">{p.n}</text>
          <line x1={cx + 0.04 * fs} x2={cx + w - 0.04 * fs} y1={barY} y2={barY} stroke="#000" strokeWidth={0.045 * fs} />
          <text x={cx + w / 2} y={barY + 0.1 * fs + s * 0.73} fontSize={s} fontStyle="italic" textAnchor="middle">{p.d}</text>
        </g>
      );
      cx += w;
    } else if (p.k === 'par') {
      const s = fs * 1.55;
      const sx = 0.62;
      els.push(
        <text key={i} transform={`translate(${cx},${0.17 * fs}) scale(${sx},1)`} fontSize={s}>{p.ch}</text>
      );
      cx += textWidth(p.ch, s) * sx;
    }
  });
  const off = -cx / 2;
  return (
    <g transform={`translate(${x},${y})${rotate ? ' rotate(-90)' : ''}`} fill="#000">
      <g transform={`translate(${off},0)`}>{els}</g>
    </g>
  );
}

// ---------------- PANELS ----------------
type TickDef = { v: number; major: boolean; label?: [string, string] };
const aTicks: TickDef[] = aTickValues.map((v) => ({ v, major: aMajorTicks.includes(v), label: aTickLabels[v] }));
const bcdTicks: TickDef[] = bcdTickValues.map((v, i) => ({ v, major: false, label: [`${bcdTickLabels[i]}\u2009×\u200910`, '0'] }));

type PanelCfg = {
  letter: string; left: number; right: number; top: number; bottom: number;
  yDomain: [number, number]; series: number[][]; title: Piece[]; ylab: Piece[]; ylabX: number;
  ticks: TickDef[]; tickLabelX: number; legendX: number; legendY0: number;
};

const panels: PanelCfg[] = [
  { letter: 'a', left: 157, right: 601, top: 44, bottom: 271, yDomain: [71.9, 921.2],
    series: [aBlue, aOrange, aGreen, aRed], title: mathPieces('Non-centered, ', 'max', false),
    ylab: mathPieces('', 'max', false), ylabX: 88, ticks: aTicks, tickLabelX: 140, legendX: 468, legendY0: 66.7 },
  { letter: 'b', left: 767, right: 1209.5, top: 44, bottom: 271, yDomain: [2.6806, 3.883],
    series: [bBlue, bOrange, bGreen, bRed], title: mathPieces('Non-centered, ', '2', false),
    ylab: mathPieces('', '2', false), ylabX: 643, ticks: bcdTicks, tickLabelX: 753, legendX: 929, legendY0: 66.7 },
  { letter: 'c', left: 157, right: 601, top: 376, bottom: 602, yDomain: [2.700, 3.8195],
    series: [cBlue, cOrange, cGreen, cRed], title: mathPieces('Centered, ', 'max', true),
    ylab: mathPieces('', 'max', true), ylabX: 33, ticks: bcdTicks, tickLabelX: 147, legendX: 320, legendY0: 397.3 },
  { letter: 'd', left: 767, right: 1209.5, top: 375, bottom: 601, yDomain: [2.7064, 3.856],
    series: [dBlue, dOrange, dGreen, dRed], title: mathPieces('Centered, ', '2', true),
    ylab: mathPieces('', '2', true), ylabX: 643, ticks: bcdTicks, tickLabelX: 753, legendX: 929, legendY0: 397.3 },
];

const TICK_FS = 20.3;
const TITLE_FS = 22.6;
const LEGEND_FS = 16.6;
const LW = 2.6;
const MR = 3.7;

function Panel({ cfg }: { cfg: PanelCfg }) {
  const x = d3.scaleLinear().domain(xDomain).range([cfg.left, cfg.right]);
  const y = d3.scaleLog().domain(cfg.yDomain).range([cfg.bottom, cfg.top]);
  const line = d3.line<number>().x((_, i) => x(i)).y((d) => y(d));
  const clipId = `clip-${cfg.letter}`;
  const cxm = (cfg.left + cfg.right) / 2;
  const cym = (cfg.top + cfg.bottom) / 2;
  return (
    <g>
      <defs>
        <clipPath id={clipId}>
          <rect x={cfg.left} y={cfg.top} width={cfg.right - cfg.left} height={cfg.bottom - cfg.top} />
        </clipPath>
      </defs>
      {/* grid */}
      <g stroke="#b0b0b0" strokeWidth={1} strokeDasharray="1.1,2.4" opacity={0.85}>
        {xTickValues.map((t) => (
          <line key={`gx${t}`} x1={x(t)} x2={x(t)} y1={cfg.top} y2={cfg.bottom} />
        ))}
        {cfg.ticks.map((t) => (
          <line key={`gy${t.v}`} x1={cfg.left} x2={cfg.right} y1={y(t.v)} y2={y(t.v)} />
        ))}
      </g>
      {/* series */}
      <g clipPath={`url(#${clipId})`}>
        {cfg.series.map((s, si) => (
          <g key={si}>
            <path d={line(s) ?? ''} fill="none" stroke={seriesColors[si]} strokeWidth={LW} strokeLinejoin="round" />
            {s.map((v, i) => (
              <circle key={i} cx={x(i)} cy={y(v)} r={MR} fill={seriesColors[si]} />
            ))}
          </g>
        ))}
      </g>
      {/* spines */}
      <rect x={cfg.left} y={cfg.top} width={cfg.right - cfg.left} height={cfg.bottom - cfg.top} fill="none" stroke="#000" strokeWidth={1.3} />
      {/* x ticks */}
      {xTickValues.map((t) => (
        <g key={`xt${t}`}>
          <line x1={x(t)} x2={x(t)} y1={cfg.bottom} y2={cfg.bottom + 7} stroke="#000" strokeWidth={1.2} />
          <text x={x(t)} y={cfg.bottom + 31} textAnchor="middle" fontSize={TICK_FS}>{t}</text>
        </g>
      ))}
      {/* y ticks */}
      {cfg.ticks.map((t) => (
        <g key={`yt${t.v}`}>
          <line x1={cfg.left - (t.major ? 7 : 4)} x2={cfg.left} y1={y(t.v)} y2={y(t.v)} stroke="#000" strokeWidth={t.major ? 1.2 : 1} />
          {t.label && (
            <text x={cfg.tickLabelX} y={y(t.v) + 8} textAnchor="end" fontSize={TICK_FS}>
              {t.label[0]}
              <tspan dy={-8.6} fontSize={TICK_FS * 0.7}>{t.label[1]}</tspan>
            </text>
          )}
        </g>
      ))}
      {/* labels */}
      <text x={cxm} y={cfg.bottom + 55} textAnchor="middle" fontSize={TICK_FS}>epoch</text>
      <MathText pieces={cfg.title} x={cxm} y={cfg.top - 14} fs={TITLE_FS} />
      <MathText pieces={cfg.ylab} x={cfg.ylabX} y={cym} fs={TICK_FS} rotate />
      {/* legend */}
      {seriesNames.map((n, i) => {
        const ly = cfg.legendY0 + i * 24.5;
        return (
          <g key={n}>
            <line x1={cfg.legendX} x2={cfg.legendX + 36} y1={ly} y2={ly} stroke={seriesColors[i]} strokeWidth={LW + 0.4} />
            <circle cx={cfg.legendX + 18} cy={ly} r={MR - 0.3} fill={seriesColors[i]} />
            <text x={cfg.legendX + 49} y={ly + 6} fontSize={LEGEND_FS}>{n}</text>
          </g>
        );
      })}
      {/* panel letter */}
      <rect x={cfg.left + 3} y={cfg.top - 1} width={28} height={34} rx={4} fill="#fff" opacity={0.78} />
      <text x={cfg.left + 10} y={cfg.top + 24} fontSize={21} fontWeight="bold">{cfg.letter}</text>
    </g>
  );
}

export default function App() {
  return (
    <svg
      width={1208}
      height={663}
      viewBox="0 0 1208 663"
      style={{ position: 'absolute', left: 0, top: 0, background: '#fff' }}
      fontFamily={FONT}
    >
      <rect x={0} y={0} width={1208} height={663} fill="#fff" />
      {panels.map((p) => (
        <Panel key={p.letter} cfg={p} />
      ))}
    </svg>
  );
}
